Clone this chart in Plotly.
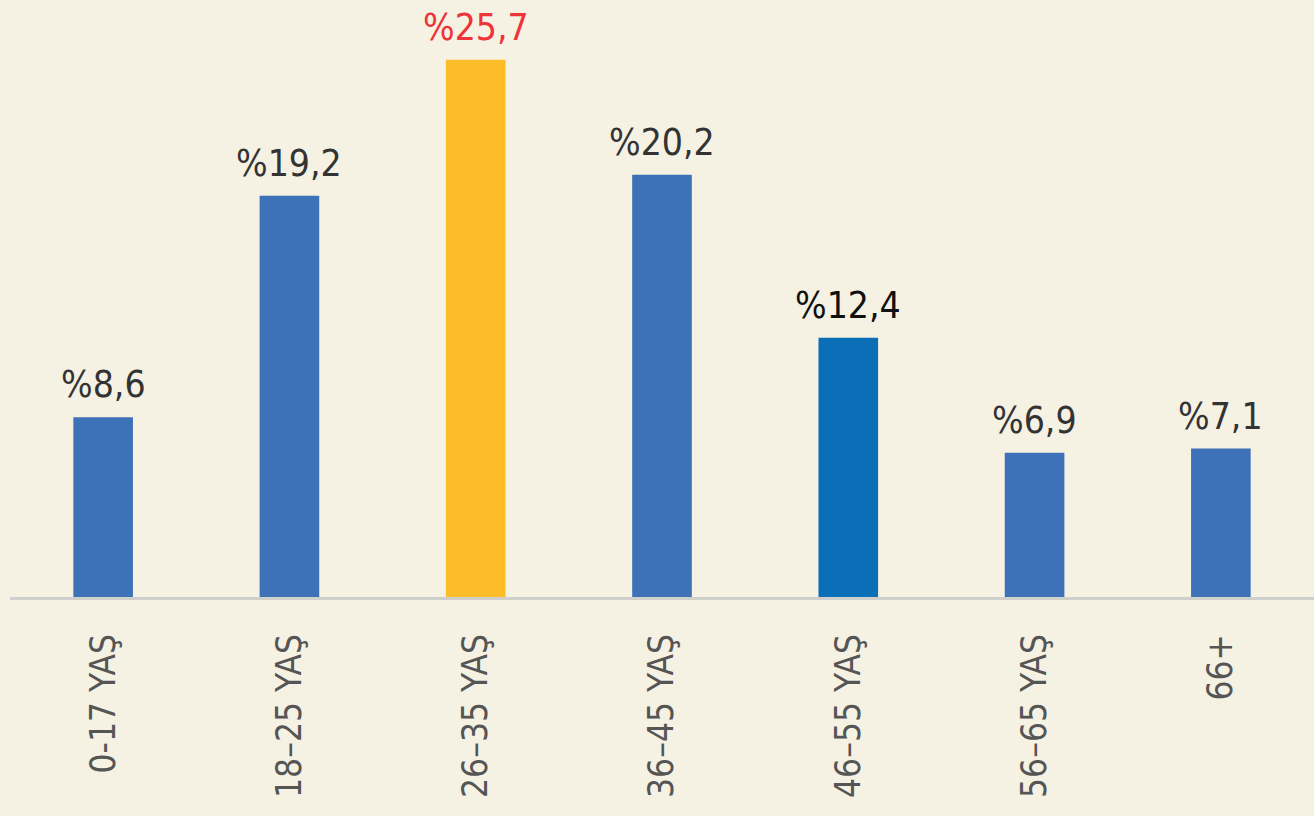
import plotly.graph_objects as go

categories = ["0-17 YAŞ", "18–25 YAŞ", "26–35 YAŞ", "36–45 YAŞ", "46–55 YAŞ", "56–65 YAŞ", "66+"]
values = [8.6, 19.2, 25.7, 20.2, 12.4, 6.9, 7.1]
bar_colors = ["#3d72b9", "#3d72b9", "#fdbd28", "#3d72b9", "#0b6fb8", "#3d72b9", "#3d72b9"]
label_colors = ["#333333", "#333333", "#ee3339", "#333333", "#111111", "#333333", "#333333"]
labels = ["%" + f"{v:.1f}".replace(".", ",") for v in values]

FONT = "Liberation Sans Narrow, DejaVu Sans Condensed, Roboto, sans-serif"

fig = go.Figure()
fig.add_trace(go.Bar(
    x=categories, y=values,
    marker=dict(color=bar_colors, line=dict(width=0)),
    hoverinfo="skip",
))

for c, v, t, col in zip(categories, values, labels, label_colors):
    fig.add_annotation(x=c, y=v, text=t, showarrow=False, yanchor="bottom",
                       yshift=9, font=dict(family=FONT, size=37, color=col))

fig.update_layout(
    width=1314, height=816,
    margin=dict(l=10, r=0, t=0, b=219),
    paper_bgcolor="#f5f1e3",
    plot_bgcolor="rgba(0,0,0,0)",
    bargap=0.68,
    showlegend=False,
    xaxis=dict(
        type="category",
        showline=True, linecolor="#cfcfcb", linewidth=3,
        showgrid=False, ticks="", tickangle=-90,
        tickfont=dict(family=FONT, size=35, color="#555555"),
        ticklabelstandoff=20,
    ),
    yaxis=dict(range=[0, 28.56], visible=False, showgrid=False, zeroline=False),
)

fig.write_html(
    "out.html",
    config={"displayModeBar": False, "staticPlot": True},
    post_script="document.body.style.margin='0';document.body.style.overflow='hidden';document.body.style.background='#f5f1e3';",
)
